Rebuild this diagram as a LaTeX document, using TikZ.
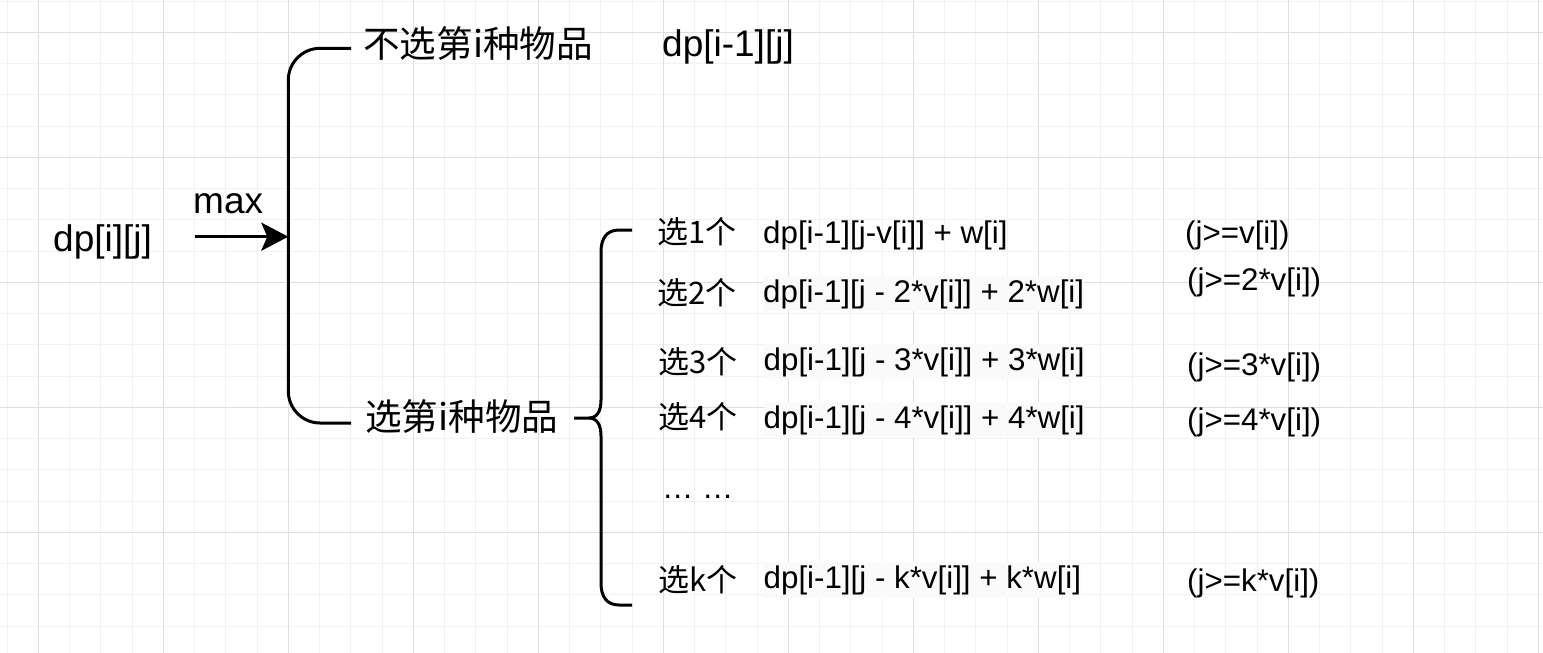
\documentclass[tikz,border=0pt]{standalone}
\usepackage{fontspec}
\setmainfont{Liberation Sans}
\newfontfamily\cjk{Noto Sans CJK SC}
\usetikzlibrary{arrows.meta}
\definecolor{gmaj}{RGB}{222,222,222}
\definecolor{gmin}{RGB}{242,242,242}
\definecolor{fbg}{RGB}{250,250,250}
\begin{document}
\begin{tikzpicture}[x=1pt,y=-1pt,
  big/.style={inner sep=0pt, anchor=base west, font=\fontsize{37}{40}\selectfont},
  bigcjk/.style={inner sep=0pt, anchor=base west, font=\fontsize{36.6}{40}\selectfont\cjk},
  lst/.style={inner sep=0pt, anchor=base west, font=\fontsize{31.3}{36}\selectfont},
  lstcjk/.style={inner sep=0pt, anchor=base west, font=\fontsize{31}{36}\selectfont\cjk},
  formbg/.style={lst, fill=fbg, inner xsep=0pt, inner ysep=3pt},
  bline/.style={line width=3pt, line cap=butt, line join=round},
  gridmin/.style={gmin, line width=1pt},
  gridmaj/.style={gmaj, line width=1pt},
  ]
\useasboundingbox (0,0) rectangle (1543,653);
\fill[white] (0,0) rectangle (1543,653);
% grid
\foreach \i in {0,...,49} {\draw[gridmin] ({7.05+31.25*\i},0) -- ({7.05+31.25*\i},653);}
\foreach \i in {0,...,20} {\draw[gridmin] (0,{1.05+31.25*\i}) -- (1543,{1.05+31.25*\i});}
\foreach \i in {0,...,12} {\draw[gridmaj] ({38.3+125*\i},0) -- ({38.3+125*\i},653);}
\foreach \i in {0,...,5} {\draw[gridmaj] (0,{32.3+125*\i}) -- (1543,{32.3+125*\i});}

% left part
\node[big] (dp) at (53,251) {dp[i][j]};
\node[big] (max) at (193,213) {max};
\coordinate (arrS) at (195,236.7);
\coordinate (arrE) at (288.3,236.7);
\draw[bline, -{Stealth[length=27pt,width=28pt,inset=6pt]}] (arrS) -- (arrE);

% big bracket
\node[bigcjk] (nosel) at (363,57) {不选第i种物品};
\node[big] (nosf) at (662,56) {dp[i-1][j]};
\node[bigcjk] (sel) at (365,430) {选第i种物品};
\coordinate (brT) at (351,48.3);
\coordinate (brB) at (351,423);
\draw[bline] (brT) -- (320,48.3) .. controls (302.6,48.3) and (288.3,62.6) .. (288.3,80)
  -- (288.3,391) .. controls (288.3,408.7) and (302.6,423) .. (320,423) -- (brB);

% curly brace
\coordinate (cbT) at (632,230);
\coordinate (cbM) at (574,418);
\coordinate (cbB) at (632,605);
\draw[bline] (cbM) -- (589,418) .. controls (597,418) and (601,411) .. (601,400)
  -- (601,252) .. controls (601,238) and (607,230) .. (619,230) -- (cbT);
\draw[bline] (589,418) .. controls (597,418) and (601,425) .. (601,436)
  -- (601,583) .. controls (601,597) and (607,605) .. (619,605) -- (cbB);

% list
\node[lstcjk] (s1) at (657,243) {选1个};
\node[lst] (f1) at (763,243) {dp[i-1][j-v[i]] + w[i]};
\node[lst] (c1) at (1185,243.5) {(j>=v[i])};

\node[lstcjk] (s2) at (657,304) {选2个};
\node[formbg] (f2) at (763,302) {dp[i-1][j - 2*v[i]] + 2*w[i]};
\node[lst] (c2) at (1187,290.5) {(j>=2*v[i])};

\node[lstcjk] (s3) at (658,373) {选3个};
\node[formbg] (f3) at (763.5,370) {dp[i-1][j - 3*v[i]] + 3*w[i]};
\node[lst] (c3) at (1187,375.5) {(j>=3*v[i])};

\node[lstcjk] (s4) at (658,428) {选4个};
\node[formbg] (f4) at (763.5,428) {dp[i-1][j - 4*v[i]] + 4*w[i]};
\node[lst] (c4) at (1187,430.5) {(j>=4*v[i])};

\node[lst] (dots) at (662,498) {… …};

\node[lstcjk] (sk) at (658,591) {选k个};
\node[formbg] (fk) at (763.5,588) {dp[i-1][j - k*v[i]] + k*w[i]};
\node[lst] (ck) at (1187,591.5) {(j>=k*v[i])};
\end{tikzpicture}
\end{document}
